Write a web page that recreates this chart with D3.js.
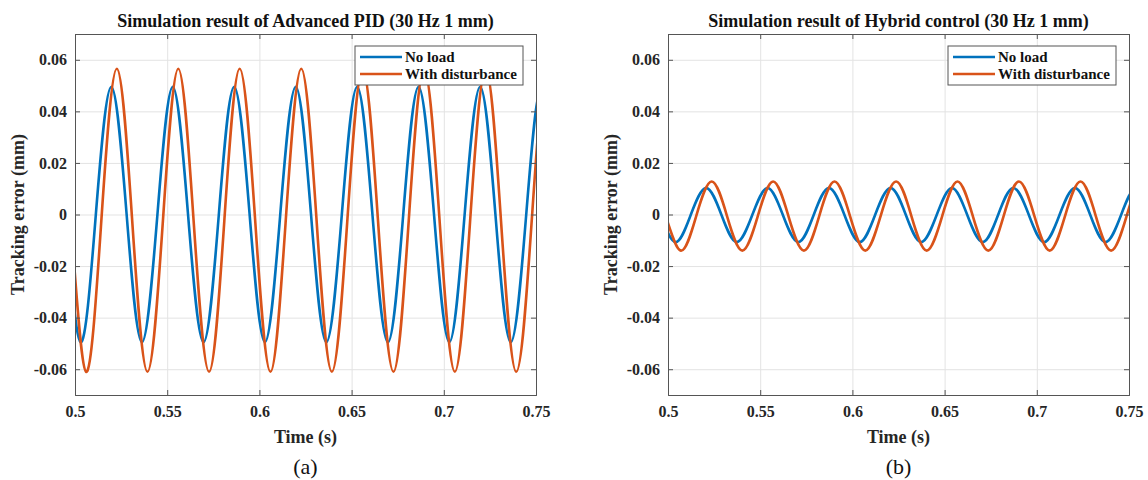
<!DOCTYPE html>
<html>
<head>
<meta charset="utf-8">
<script src="https://cdn.jsdelivr.net/npm/d3@7"></script>
<style>
	body { margin: 0; background: #fff; }
	text { font-family: "Liberation Serif", "Times New Roman", serif; }
</style>
</head>
<body>
<div id="chart-area"></div>
<script>

// Tick values and labels shared by both panels
let timeTicks = [0.5, 0.55, 0.6, 0.65, 0.7, 0.75];
let timeLabels = ["0.5", "0.55", "0.6", "0.65", "0.7", "0.75"];
let errorTicks = [-0.06, -0.04, -0.02, 0, 0.02, 0.04, 0.06];
let errorLabels = ["-0.06", "-0.04", "-0.02", "0", "0.02", "0.04", "0.06"];

let seriesNames = ["No load", "With disturbance"];
let seriesColors = ["#0072BD", "#D95319"];

// (a) Advanced PID - No load : [time (s), error (mm)] at peaks, crossings and troughs
// (signal runs on both sides of the 0.5-0.75 s window, clipped by the axes)
let pidNoLoad = [
	[0.4863, 0.0495], [0.4947, 0],
	[0.5030, -0.0495], [0.5113, 0], [0.5197, 0.0495], [0.5280, 0],
	[0.5363, -0.0495], [0.5447, 0], [0.5530, 0.0495], [0.5613, 0],
	[0.5697, -0.0495], [0.5780, 0], [0.5863, 0.0495], [0.5947, 0],
	[0.6030, -0.0495], [0.6113, 0], [0.6197, 0.0495], [0.6280, 0],
	[0.6363, -0.0495], [0.6447, 0], [0.6530, 0.0495], [0.6613, 0],
	[0.6697, -0.0495], [0.6780, 0], [0.6863, 0.0495], [0.6947, 0],
	[0.7030, -0.0495], [0.7113, 0], [0.7197, 0.0495], [0.7280, 0],
	[0.7363, -0.0495], [0.7447, 0], [0.7530, 0.0495], [0.7613, 0]
];

// (a) Advanced PID - With disturbance
let pidDisturbance = [
	[0.4893, 0.0565], [0.4977, -0.0022],
	[0.5060, -0.0610], [0.5143, -0.0022], [0.5227, 0.0565], [0.5310, -0.0022],
	[0.5393, -0.0610], [0.5477, -0.0022], [0.5560, 0.0565], [0.5643, -0.0022],
	[0.5727, -0.0610], [0.5810, -0.0022], [0.5893, 0.0565], [0.5977, -0.0022],
	[0.6060, -0.0610], [0.6143, -0.0022], [0.6227, 0.0565], [0.6310, -0.0022],
	[0.6393, -0.0610], [0.6477, -0.0022], [0.6560, 0.0565], [0.6643, -0.0022],
	[0.6727, -0.0610], [0.6810, -0.0022], [0.6893, 0.0565], [0.6977, -0.0022],
	[0.7060, -0.0610], [0.7143, -0.0022], [0.7227, 0.0565], [0.7310, -0.0022],
	[0.7393, -0.0610], [0.7477, -0.0022], [0.7560, 0.0565], [0.7643, -0.0022]
];

// (b) Hybrid control - No load
let hybridNoLoad = [
	[0.4873, 0.0103], [0.4957, -0.0002],
	[0.5040, -0.0107], [0.5123, -0.0002], [0.5207, 0.0103], [0.5290, -0.0002],
	[0.5373, -0.0107], [0.5457, -0.0002], [0.5540, 0.0103], [0.5623, -0.0002],
	[0.5707, -0.0107], [0.5790, -0.0002], [0.5873, 0.0103], [0.5957, -0.0002],
	[0.6040, -0.0107], [0.6123, -0.0002], [0.6207, 0.0103], [0.6290, -0.0002],
	[0.6373, -0.0107], [0.6457, -0.0002], [0.6540, 0.0103], [0.6623, -0.0002],
	[0.6707, -0.0107], [0.6790, -0.0002], [0.6873, 0.0103], [0.6957, -0.0002],
	[0.7040, -0.0107], [0.7123, -0.0002], [0.7207, 0.0103], [0.7290, -0.0002],
	[0.7373, -0.0107], [0.7457, -0.0002], [0.7540, 0.0103], [0.7623, -0.0002]
];

// (b) Hybrid control - With disturbance
let hybridDisturbance = [
	[0.4903, 0.0128], [0.4987, -0.0006],
	[0.5070, -0.0140], [0.5153, -0.0006], [0.5237, 0.0128], [0.5320, -0.0006],
	[0.5403, -0.0140], [0.5487, -0.0006], [0.5570, 0.0128], [0.5653, -0.0006],
	[0.5737, -0.0140], [0.5820, -0.0006], [0.5903, 0.0128], [0.5987, -0.0006],
	[0.6070, -0.0140], [0.6153, -0.0006], [0.6237, 0.0128], [0.6320, -0.0006],
	[0.6403, -0.0140], [0.6487, -0.0006], [0.6570, 0.0128], [0.6653, -0.0006],
	[0.6737, -0.0140], [0.6820, -0.0006], [0.6903, 0.0128], [0.6987, -0.0006],
	[0.7070, -0.0140], [0.7153, -0.0006], [0.7237, 0.0128], [0.7320, -0.0006],
	[0.7403, -0.0140], [0.7487, -0.0006], [0.7570, 0.0128], [0.7653, -0.0006]
];


// SVG area
let svg = d3.select("#chart-area").append("svg")
	.attr("width", 1148)
	.attr("height", 480);

drawPanel({
	left: 75, top: 34, width: 461, height: 361,
	title: "Simulation result of Advanced PID (30 Hz 1 mm)",
	caption: "(a)", id: "a",
	series: [pidNoLoad, pidDisturbance]
});

drawPanel({
	left: 668, top: 34, width: 461, height: 361,
	title: "Simulation result of Hybrid control (30 Hz 1 mm)",
	caption: "(b)", id: "b",
	series: [hybridNoLoad, hybridDisturbance]
});


function drawPanel(p) {

	let width = p.width, height = p.height;

	let g = svg.append("g")
		.attr("transform", "translate(" + p.left + "," + p.top + ")");

	// Scales
	let x = d3.scaleLinear().domain([0.5, 0.75]).range([0, width]);
	let y = d3.scaleLinear().domain([-0.07, 0.07]).range([height, 0]);

	// Grid lines
	g.append("g")
		.attr("class", "grid")
		.attr("transform", "translate(0," + height + ")")
		.call(d3.axisBottom(x).tickValues(timeTicks).tickSize(-height).tickFormat(""))
		.call(s => s.select(".domain").remove())
		.selectAll("line").attr("stroke", "#e3e3e3").attr("stroke-width", 1);

	g.append("g")
		.attr("class", "grid")
		.call(d3.axisLeft(y).tickValues(errorTicks).tickSize(-width).tickFormat(""))
		.call(s => s.select(".domain").remove())
		.selectAll("line").attr("stroke", "#e3e3e3").attr("stroke-width", 1);

	// Curves, clipped to the axes box
	g.append("clipPath")
		.attr("id", "clip-" + p.id)
		.append("rect")
		.attr("width", width)
		.attr("height", height);

	let line = d3.line()
		.x(d => x(d[0]))
		.y(d => y(d[1]))
		.curve(d3.curveNatural);

	p.series.forEach((data, i) => {
		g.append("path")
			.datum(data)
			.attr("clip-path", "url(#clip-" + p.id + ")")
			.attr("fill", "none")
			.attr("stroke", seriesColors[i])
			.attr("stroke-width", 2.6)
			.attr("d", line);
	});

	// Axes with inward ticks on all four sides
	let axisColor = "#555";

	let xAxis = d3.axisBottom(x)
		.tickValues(timeTicks)
		.tickFormat((d, i) => timeLabels[i])
		.tickSize(-5)
		.tickPadding(11);

	let yAxis = d3.axisLeft(y)
		.tickValues(errorTicks)
		.tickFormat((d, i) => errorLabels[i])
		.tickSize(-5)
		.tickPadding(8);

	g.append("g")
		.attr("class", "x axis")
		.attr("transform", "translate(0," + height + ")")
		.call(xAxis);

	g.append("g")
		.attr("class", "y axis")
		.call(yAxis);

	g.append("g")
		.attr("class", "x axis top")
		.call(d3.axisTop(x).tickValues(timeTicks).tickFormat("").tickSize(-5));

	g.append("g")
		.attr("class", "y axis right")
		.attr("transform", "translate(" + width + ",0)")
		.call(d3.axisRight(y).tickValues(errorTicks).tickFormat("").tickSize(-5));

	g.selectAll(".axis path, .axis line")
		.attr("stroke", axisColor)
		.attr("stroke-width", 1);

	g.selectAll(".axis text")
		.attr("fill", "#262626")
		.style("font-family", "'Liberation Serif', serif")
		.style("font-size", "16px")
		.style("font-weight", "bold");

	// Title
	g.append("text")
		.attr("x", width / 2)
		.attr("y", -7)
		.attr("text-anchor", "middle")
		.style("font-size", "18px")
		.style("font-weight", "bold")
		.attr("fill", "#111")
		.text(p.title);

	// Axis labels
	g.append("text")
		.attr("x", width / 2)
		.attr("y", height + 48)
		.attr("text-anchor", "middle")
		.style("font-size", "18px")
		.style("font-weight", "bold")
		.attr("fill", "#262626")
		.text("Time (s)");

	g.append("text")
		.attr("transform", "rotate(-90)")
		.attr("x", -height / 2)
		.attr("y", -51)
		.attr("text-anchor", "middle")
		.style("font-size", "18px")
		.style("font-weight", "bold")
		.attr("fill", "#262626")
		.text("Tracking error (mm)");

	// Caption
	g.append("text")
		.attr("x", width / 2)
		.attr("y", height + 79)
		.attr("text-anchor", "middle")
		.style("font-size", "22px")
		.attr("fill", "#111")
		.text(p.caption);

	// Legend
	let legend = g.append("g")
		.attr("transform", "translate(" + (width - 181) + ",12)");

	legend.append("rect")
		.attr("width", 168)
		.attr("height", 39)
		.attr("fill", "#fff")
		.attr("stroke", "#555")
		.attr("stroke-width", 1);

	seriesNames.forEach((name, i) => {
		legend.append("line")
			.attr("x1", 5)
			.attr("x2", 47)
			.attr("y1", 11 + i * 17)
			.attr("y2", 11 + i * 17)
			.attr("stroke", seriesColors[i])
			.attr("stroke-width", 2.6);

		legend.append("text")
			.attr("x", 50)
			.attr("y", 16 + i * 17)
			.style("font-size", "15px")
			.style("font-weight", "bold")
			.attr("fill", "#111")
			.text(name);
	});
}

</script>
</body>
</html>
